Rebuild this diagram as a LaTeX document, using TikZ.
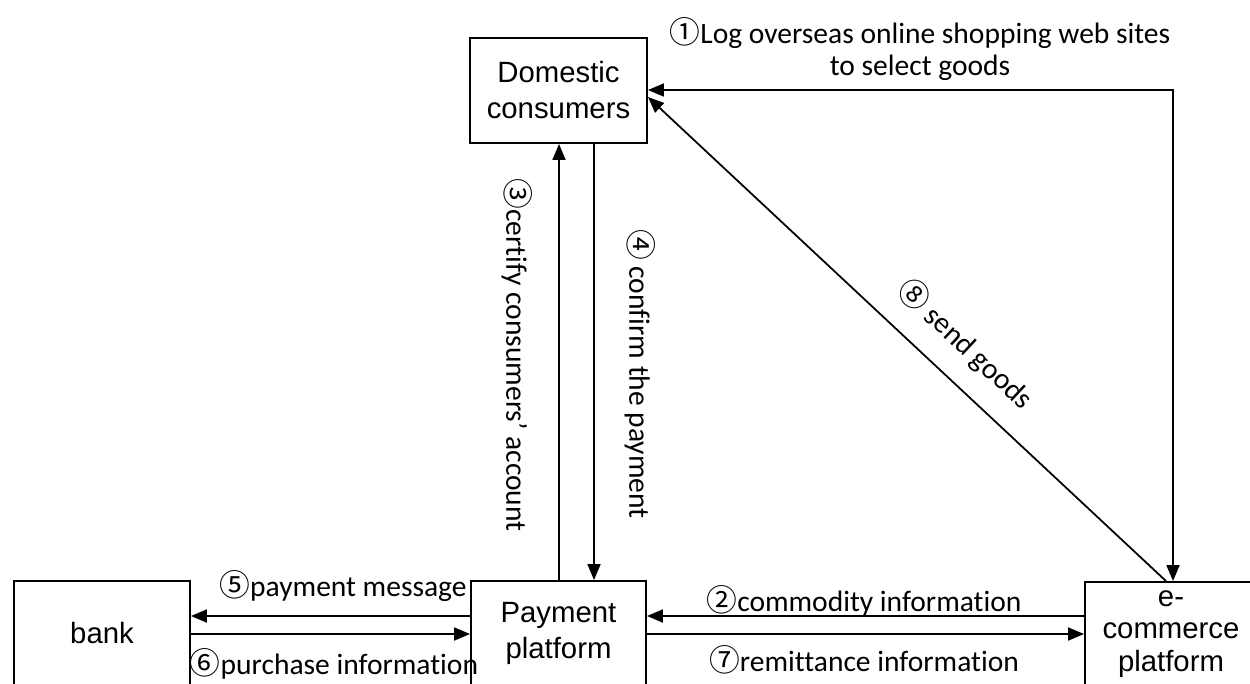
\documentclass[tikz,border=0pt]{standalone}
\usepackage{fontspec}
\setmainfont[Ligatures={NoCommon}]{Carlito}
\newfontfamily\boxfont{Liberation Sans}
\newfontfamily\symfont{Noto Sans CJK SC}
\usetikzlibrary{arrows.meta}
\newcommand\cnum[1]{{\symfont\fontsize{17.5}{18}\selectfont #1}}
\tikzset{
  box/.style={draw, line width=1.1pt, align=center, inner sep=0pt,
    font=\boxfont\fontsize{16.7}{20.5}\selectfont},
  arr/.style={line width=1pt, -{Triangle[length=0.32cm,width=0.26cm]}},
  darr/.style={line width=1pt, {Triangle[length=0.32cm,width=0.26cm]}-{Triangle[length=0.32cm,width=0.26cm]}},
  lbl/.style={font=\fontsize{16.8}{18.4}\selectfont, inner sep=0pt, align=center}
}
\begin{document}
\begin{tikzpicture}[x=0.02cm,y=-0.02cm]
\useasboundingbox (0,0) rectangle (1250,683);
\fill[white] (0,0) rectangle (1250,683);
\begin{scope}
\clip (0,0) rectangle (1250,683);
% boxes
\node[box, minimum width=3.54cm, minimum height=2.1cm] (dom) at (558.5,90.5) {Domestic\\consumers};
\node[box, minimum width=3.5cm, minimum height=2.1cm] (pay) at (558.5,633.5) {Payment\\platform};
\node[box, minimum width=3.52cm, minimum height=2.1cm] (bank) at (102,633.5) {bank};
\node[box, minimum width=3.44cm, minimum height=2.08cm, font=\boxfont\fontsize{16.7}{18.6}\selectfont] (ecom) at (1171,634) {e-\\commerce\\platform};

% helper coordinates
\coordinate (c1) at (1173,90);
\coordinate (x3) at (559,0);
\coordinate (x4) at (594,0);
\coordinate (y5) at (0,616);
\coordinate (y6) at (0,634);

% connectors
\draw[darr] (ecom.north -| c1) -- (c1) -- (dom.east |- c1);
\draw[arr] ([xshift=-0.1cm]ecom.north) -- ([yshift=-0.13cm]dom.east);
\draw[arr] (pay.north -| x3) -- (dom.south -| x3);
\draw[arr] (dom.south -| x4) -- (pay.north -| x4);
\draw[arr] (pay.west |- y5) -- (bank.east |- y5);
\draw[arr] (bank.east |- y6) -- (pay.west |- y6);
\draw[arr] (ecom.west |- y5) -- (pay.east |- y5);
\draw[arr] (pay.east |- y6) -- (ecom.west |- y6);

% labels
\node[lbl] (l1) at (920,49) {\cnum{①}Log overseas online shopping web sites\\to select goods};
\node[lbl] (l5) at (343,586) {\cnum{⑤}payment message};
\node[lbl] (l6) at (334,664) {\cnum{⑥}purchase information};
\node[lbl] (l2) at (864,601) {\cnum{②}commodity information};
\node[lbl] (l7) at (864,660) {\cnum{⑦}remittance information};
\node[lbl, rotate=-90] (l3) at (517,355) {\cnum{③}certify consumers’ account};
\node[lbl, rotate=-90] (l4) at (640,374) {\cnum{④} confirm the payment};
\node[lbl, rotate=-43] (l8) at (966,344) {\cnum{⑧} send goods};
\end{scope}
\end{tikzpicture}
\end{document}
